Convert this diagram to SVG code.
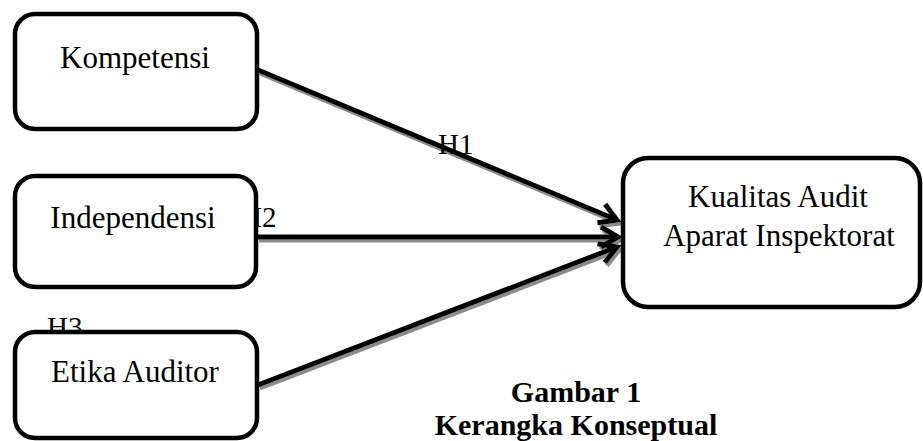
<svg xmlns="http://www.w3.org/2000/svg" width="923" height="441" viewBox="0 0 923 441">
<style>
.box{fill:#fff;stroke:#000;stroke-width:4.5}
.t{font-family:"Liberation Serif","Times New Roman",serif;font-size:31px;fill:#000}
.lbl{font-family:"Liberation Serif","Times New Roman",serif;font-size:29px;fill:#000}
.cap{font-family:"Liberation Serif","Times New Roman",serif;font-size:30px;font-weight:bold;fill:#000}
.conn{stroke:#000;stroke-width:5;fill:none}
</style>
<defs>
<marker id="ah" markerUnits="userSpaceOnUse" viewBox="-20 -12 24 24" refX="0" refY="0" markerWidth="24" markerHeight="24" orient="auto" overflow="visible">
<path d="M-17,-10 L0,0 L-17,10" fill="none" stroke="#000" stroke-width="5" stroke-linejoin="miter"/>
</marker>
<filter id="sh" x="-10%" y="-10%" width="120%" height="140%">
<feDropShadow dx="2" dy="3" stdDeviation="0.4" flood-color="#8c8c8c" flood-opacity="1"/>
</filter>
</defs>
<g id="connectors" filter="url(#sh)">
<line class="conn" x1="258" y1="70" x2="617" y2="220" marker-end="url(#ah)"/>
<line class="conn" x1="257" y1="237" x2="618" y2="237" marker-end="url(#ah)"/>
<line class="conn" x1="258" y1="385" x2="617" y2="247" marker-end="url(#ah)"/>
</g>
<g id="labels">
<text class="lbl" x="438" y="154">H1</text>
<text class="lbl" x="241" y="227">H2</text>
<text class="lbl" x="47" y="337">H3</text>
</g>
<g id="kompetensi">
<rect class="box" x="15" y="14" width="242" height="115" rx="20"/>
<text class="t" x="135" y="68" text-anchor="middle">Kompetensi</text>
</g>
<g id="independensi">
<rect class="box" x="15" y="176" width="241" height="111" rx="20"/>
<text class="t" x="133" y="228" text-anchor="middle">Independensi</text>
</g>
<g id="etika">
<rect class="box" x="15" y="332" width="242" height="106" rx="20"/>
<text class="t" x="135" y="382" text-anchor="middle">Etika Auditor</text>
</g>
<g id="kualitas">
<rect class="box" x="623" y="158" width="297" height="149" rx="25"/>
<text class="t" x="778" y="207" text-anchor="middle">Kualitas Audit</text>
<text class="t" x="779" y="246" text-anchor="middle">Aparat Inspektorat</text>
</g>
<g id="caption">
<text class="cap" x="576" y="402" text-anchor="middle">Gambar 1</text>
<text class="cap" x="576" y="435" text-anchor="middle">Kerangka Konseptual</text>
</g>
</svg>
